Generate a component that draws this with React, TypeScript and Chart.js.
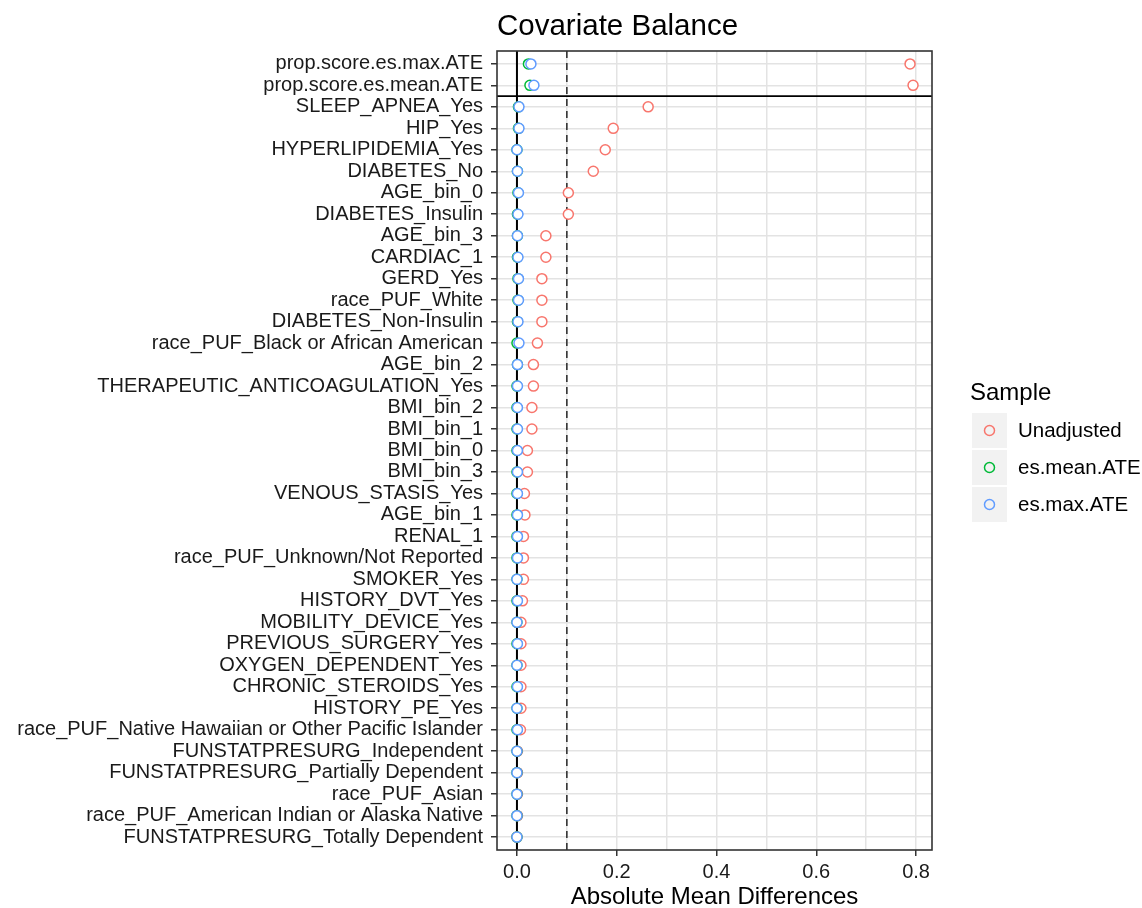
import React, { useEffect, useRef } from "react";
import { Chart, registerables } from "chart.js";

Chart.register(...registerables);

const covariates = [
  "prop.score.es.max.ATE",
  "prop.score.es.mean.ATE",
  "SLEEP_APNEA_Yes",
  "HIP_Yes",
  "HYPERLIPIDEMIA_Yes",
  "DIABETES_No",
  "AGE_bin_0",
  "DIABETES_Insulin",
  "AGE_bin_3",
  "CARDIAC_1",
  "GERD_Yes",
  "race_PUF_White",
  "DIABETES_Non-Insulin",
  "race_PUF_Black or African American",
  "AGE_bin_2",
  "THERAPEUTIC_ANTICOAGULATION_Yes",
  "BMI_bin_2",
  "BMI_bin_1",
  "BMI_bin_0",
  "BMI_bin_3",
  "VENOUS_STASIS_Yes",
  "AGE_bin_1",
  "RENAL_1",
  "race_PUF_Unknown/Not Reported",
  "SMOKER_Yes",
  "HISTORY_DVT_Yes",
  "MOBILITY_DEVICE_Yes",
  "PREVIOUS_SURGERY_Yes",
  "OXYGEN_DEPENDENT_Yes",
  "CHRONIC_STEROIDS_Yes",
  "HISTORY_PE_Yes",
  "race_PUF_Native Hawaiian or Other Pacific Islander",
  "FUNSTATPRESURG_Independent",
  "FUNSTATPRESURG_Partially Dependent",
  "race_PUF_Asian",
  "race_PUF_American Indian or Alaska Native",
  "FUNSTATPRESURG_Totally Dependent",
];

const unadjusted = [
  0.788, 0.794, 0.263, 0.193, 0.177, 0.153, 0.103, 0.103, 0.058, 0.058,
  0.05, 0.05, 0.05, 0.041, 0.033, 0.033, 0.03, 0.03, 0.021, 0.021,
  0.015, 0.016, 0.013, 0.013, 0.013, 0.011, 0.008, 0.008, 0.008, 0.008,
  0.008, 0.007, 0.001, 0.001, 0.001, 0.001, 0.0,
];

const esMeanATE = [
  0.023, 0.026, 0.003, 0.003, 0.0, 0.001, 0.002, 0.001, 0.001, 0.001,
  0.002, 0.002, 0.001, 0.0, 0.001, 0.0, 0.0, 0.0, 0.0, 0.0,
  0.0, 0.0, 0.0, 0.0, 0.0, 0.0, 0.0, 0.0, 0.0, 0.0,
  0.0, 0.0, 0.0, 0.0, 0.0, 0.0, 0.0,
];

const esMaxATE = [
  0.028, 0.034, 0.004, 0.004, 0.0, 0.001, 0.003, 0.002, 0.001, 0.002,
  0.003, 0.003, 0.002, 0.004, 0.001, 0.001, 0.001, 0.001, 0.001, 0.001,
  0.001, 0.001, 0.001, 0.001, 0.0, 0.001, 0.0, 0.001, 0.0, 0.001,
  0.0, 0.001, 0.0, 0.0, 0.0, 0.0, 0.0,
];

const sampleLabels = ["Unadjusted", "es.mean.ATE", "es.max.ATE"];
const sampleColors = ["#F8766D", "#00BA38", "#619CFF"];
const xTickValues = [0, 0.1, 0.2, 0.3, 0.4, 0.5, 0.6, 0.7, 0.8];
const xMajorTicks = [0, 0.2, 0.4, 0.6, 0.8];
const threshold = 0.1;
const propScoreRows = 2;

const FONT = "'Liberation Sans', Arial, Helvetica, sans-serif";

export default function App() {
  const ref = useRef<HTMLCanvasElement | null>(null);

  useEffect(() => {
    document.body.style.margin = "0";
    const canvas = ref.current;
    if (!canvas) return;

    const isMajor = (v: number) =>
      xMajorTicks.some((m) => Math.abs(m - v) < 1e-9);

    const decorations = {
      id: "decorations",
      beforeDatasetsDraw(chart: any) {
        const { ctx, chartArea, scales } = chart;
        const x = scales.x;
        const y = scales.y;
        ctx.save();
        // zero line
        ctx.strokeStyle = "#000";
        ctx.lineWidth = 2;
        const x0 = x.getPixelForValue(0);
        ctx.beginPath();
        ctx.moveTo(x0, chartArea.top);
        ctx.lineTo(x0, chartArea.bottom);
        ctx.stroke();
        // threshold line
        ctx.strokeStyle = "#333";
        ctx.lineWidth = 1.6;
        ctx.setLineDash([7, 5]);
        const xt = x.getPixelForValue(threshold);
        ctx.beginPath();
        ctx.moveTo(xt, chartArea.top);
        ctx.lineTo(xt, chartArea.bottom);
        ctx.stroke();
        ctx.setLineDash([]);
        // separator between distance measures and covariates
        ctx.strokeStyle = "#000";
        ctx.lineWidth = 1.6;
        const ys = y.getPixelForValue(propScoreRows - 0.5);
        ctx.beginPath();
        ctx.moveTo(chartArea.left, ys);
        ctx.lineTo(chartArea.right, ys);
        ctx.stroke();
        ctx.restore();
      },
      afterDatasetsDraw(chart: any) {
        const { ctx, chartArea } = chart;
        ctx.save();
        ctx.strokeStyle = "#333";
        ctx.lineWidth = 1.6;
        ctx.strokeRect(
          chartArea.left,
          chartArea.top,
          chartArea.right - chartArea.left,
          chartArea.bottom - chartArea.top
        );
        ctx.restore();
      },
      afterDraw(chart: any) {
        const { ctx, chartArea } = chart;
        ctx.save();
        // title
        ctx.fillStyle = "#000";
        ctx.font = `29.5px ${FONT}`;
        ctx.textAlign = "left";
        ctx.textBaseline = "alphabetic";
        ctx.fillText("Covariate Balance", chartArea.left, 35);
        // legend
        ctx.font = `24px ${FONT}`;
        ctx.fillText("Sample", 970, 400);
        const boxX = 972;
        const boxSize = 35;
        const boxTops = [413, 450, 487];
        sampleLabels.forEach((lab, i) => {
          const top = boxTops[i];
          ctx.fillStyle = "#f2f2f2";
          ctx.fillRect(boxX, top, boxSize, boxSize);
          ctx.beginPath();
          ctx.arc(boxX + boxSize / 2, top + boxSize / 2, 5, 0, Math.PI * 2);
          ctx.strokeStyle = sampleColors[i];
          ctx.lineWidth = 1.5;
          ctx.stroke();
          ctx.fillStyle = "#000";
          ctx.font = `20.5px ${FONT}`;
          ctx.textBaseline = "middle";
          ctx.fillText(lab, 1018, top + boxSize / 2 + 1);
          ctx.textBaseline = "alphabetic";
        });
        ctx.restore();
      },
    };

    const seriesValues = [unadjusted, esMeanATE, esMaxATE];

    const chart = new Chart(canvas, {
      type: "scatter",
      data: {
        datasets: seriesValues.map((vals, k) => ({
          label: sampleLabels[k],
          data: vals.map((v, i) => ({ x: v, y: i })),
          order: 3 - k,
          pointRadius: 5,
          pointHoverRadius: 5,
          pointBorderWidth: 1.5,
          pointBackgroundColor: "#ffffff",
          pointBorderColor: sampleColors[k],
          borderColor: sampleColors[k],
          backgroundColor: "#ffffff",
          showLine: false,
        })),
      },
      options: {
        responsive: false,
        animation: false,
        devicePixelRatio: 1,
        layout: { padding: { top: 51, right: 210, left: 0, bottom: 0 } },
        plugins: {
          legend: { display: false },
          tooltip: { enabled: false },
          title: { display: false },
        },
        scales: {
          x: {
            type: "linear",
            min: -0.04,
            max: 0.832,
            afterBuildTicks: (s: any) => {
              s.ticks = xTickValues.map((v) => ({ value: v }));
            },
            afterFit: (s: any) => {
              s.height = 58;
            },
            ticks: {
              autoSkip: false,
              maxRotation: 0,
              padding: 4,
              color: "#1a1a1a",
              font: { family: FONT, size: 20 },
              callback: (v: any) => (isMajor(Number(v)) ? Number(v).toFixed(1) : ""),
            },
            grid: {
              color: "#e3e3e3",
              lineWidth: 1.5,
              drawTicks: true,
              tickLength: 6,
              tickWidth: 1.5,
              tickColor: (ctx: any) =>
                ctx.tick && isMajor(ctx.tick.value) ? "#333" : "rgba(0,0,0,0)",
            },
            border: { display: false },
            title: {
              display: true,
              text: "Absolute Mean Differences",
              color: "#000",
              font: { family: FONT, size: 24, lineHeight: 1 },
              padding: { top: 0, bottom: -1 },
            },
          },
          y: {
            type: "linear",
            reverse: true,
            min: -0.6,
            max: covariates.length - 0.4,
            afterBuildTicks: (s: any) => {
              s.ticks = covariates.map((_, i) => ({ value: i }));
            },
            afterFit: (s: any) => {
              s.width = 497;
            },
            ticks: {
              autoSkip: false,
              padding: 8,
              color: "#1a1a1a",
              font: { family: FONT, size: 20 },
              callback: (v: any) => covariates[Number(v)] ?? "",
            },
            grid: {
              color: "#e3e3e3",
              lineWidth: 1.5,
              drawTicks: true,
              tickLength: 6,
              tickWidth: 1.5,
              tickColor: "#333",
            },
            border: { display: false },
          },
        },
      },
      plugins: [decorations],
    } as any);

    return () => chart.destroy();
  }, []);

  return (
    <div style={{ width: 1142, height: 908, background: "#fff" }}>
      <canvas ref={ref} width={1142} height={908} style={{ display: "block" }} />
    </div>
  );
}
